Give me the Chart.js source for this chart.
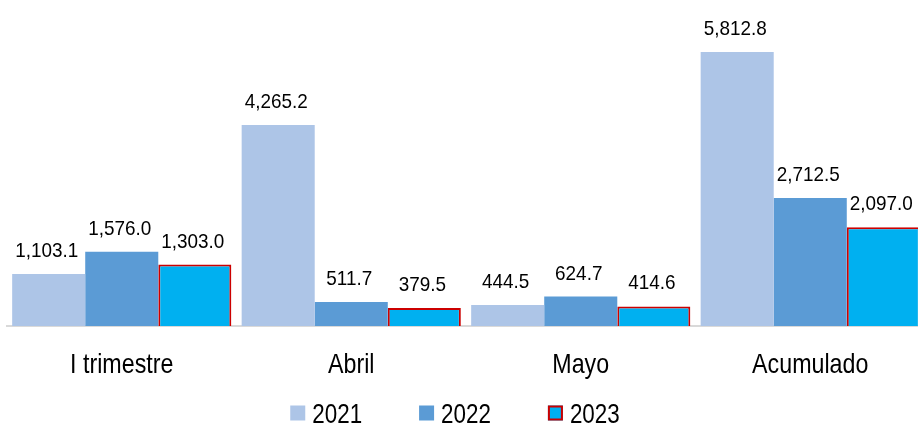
<!DOCTYPE html>
<html>
<head>
<meta charset="utf-8">
<script src="https://cdn.jsdelivr.net/npm/chart.js@4.4.1/dist/chart.umd.min.js"></script>
<style>
  html, body { margin: 0; padding: 0; background: #fff; overflow: hidden; }
  #wrap { width: 925px; height: 425px; }
</style>
</head>
<body>
<div id="wrap"><canvas id="grafico" width="925" height="425"></canvas></div>
<script>
// categorias e séries
const categorias = ['I trimestre', 'Abril', 'Mayo', 'Acumulado'];
const anos = ['2021', '2022', '2023'];
const valores2021 = [1103.1, 4265.2, 444.5, 5812.8];
const valores2022 = [1576.0, 511.7, 624.7, 2712.5];
const valores2023 = [1303.0, 379.5, 414.6, 2097.0];

const fonte = "'Liberation Sans', Arial, sans-serif";

// texto "estreito": escala horizontal para imitar Arial Narrow
function textoEstreito(ctx, txt, x, y, sx, align) {
    ctx.save();
    ctx.translate(x, y);
    ctx.scale(sx, 1);
    ctx.textAlign = align;
    ctx.fillText(txt, 0, 0);
    ctx.restore();
}

// rótulos de valor acima das barras
const rotulosValor = {
    id: 'rotulosValor',
    afterDatasetsDraw(chart) {
        const ctx = chart.ctx;
        ctx.save();
        ctx.fillStyle = '#000';
        ctx.font = `21px ${fonte}`;
        ctx.textBaseline = 'alphabetic';
        chart.data.datasets.forEach((ds, i) => {
            chart.getDatasetMeta(i).data.forEach((bar, j) => {
                const txt = ds.data[j].toLocaleString('en-US', { minimumFractionDigits: 1, maximumFractionDigits: 1 });
                textoEstreito(ctx, txt, bar.x - 2, bar.y - 17, 0.9, 'center');
            });
        });
        ctx.restore();
    }
};

// nomes das categorias no eixo x (posição vem da escala)
const rotulosEixo = {
    id: 'rotulosEixo',
    afterDraw(chart) {
        const ctx = chart.ctx, sc = chart.scales.x;
        ctx.save();
        ctx.fillStyle = '#000';
        ctx.font = `28px ${fonte}`;
        ctx.textBaseline = 'alphabetic';
        categorias.forEach((c, i) => {
            textoEstreito(ctx, c, sc.getPixelForTick(i), chart.chartArea.bottom + 47, 0.83, 'center');
        });
        ctx.restore();
    }
};

// legenda desenhada à mão (caixa + texto, com espaço curto entre eles)
const legendaBaixo = {
    id: 'legendaBaixo',
    afterDraw(chart) {
        const ctx = chart.ctx;
        const caixa = 15, folga = 7, espaco = 57, centroX = 455, centroY = 413, sx = 0.8;
        ctx.save();
        ctx.font = `28px ${fonte}`;
        ctx.textBaseline = 'alphabetic';
        const itens = chart.data.datasets.map(ds => ({ ds, w: caixa + folga + ctx.measureText(ds.label).width * sx }));
        const total = itens.reduce((s, it) => s + it.w, 0) + espaco * (itens.length - 1);
        let x = centroX - total / 2;
        itens.forEach(({ ds, w }) => {
            ctx.fillStyle = ds.backgroundColor;
            ctx.fillRect(x, centroY - caixa / 2, caixa, caixa);
            if (ds.borderWidth) {
                ctx.strokeStyle = ds.borderColor;
                ctx.lineWidth = ds.borderWidth;
                ctx.strokeRect(x + 1, centroY - caixa / 2 + 1, caixa - 2, caixa - 2);
            }
            ctx.fillStyle = '#000';
            textoEstreito(ctx, ds.label, x + caixa + folga, centroY + 10, sx, 'left');
            x += w + espaco;
        });
        ctx.restore();
    }
};

new Chart(document.getElementById('grafico').getContext('2d'), {
    type: 'bar',
    data: {
        labels: categorias,
        datasets: [
            { label: anos[0], data: valores2021, backgroundColor: '#adc5e7', borderWidth: 0 },
            { label: anos[1], data: valores2022, backgroundColor: '#5b9bd5', borderWidth: 0 },
            { label: anos[2], data: valores2023, backgroundColor: '#00b0f0', borderColor: '#cc0000', borderWidth: 2 }
        ]
    },
    options: {
        responsive: false,
        animation: false,
        categoryPercentage: 0.955,
        barPercentage: 1,
        layout: { padding: { left: 7, right: 0, top: 0, bottom: 39 } },
        plugins: {
            tooltip: { enabled: false },
            legend: { display: false }
        },
        scales: {
            x: {
                grid: { display: false },
                border: { color: '#d9d9d9', width: 2 },
                ticks: { display: false },
                afterFit(scale) { scale.height = 60; }
            },
            y: { display: false, min: 0, max: 6915 }
        }
    },
    plugins: [rotulosValor, rotulosEixo, legendaBaixo]
});
</script>
</body>
</html>
